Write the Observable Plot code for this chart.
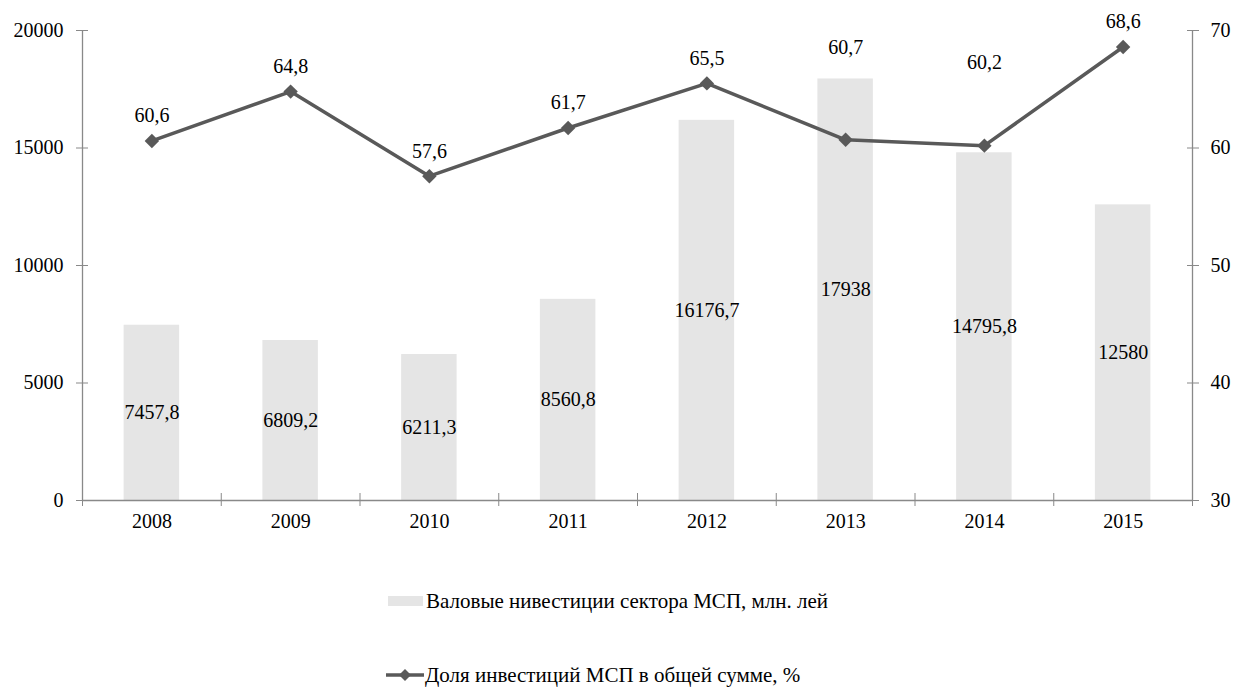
<!DOCTYPE html>
<html>
<head>
<meta charset="utf-8">
<script src="https://cdn.jsdelivr.net/npm/d3@7"></script>
<script src="https://cdn.jsdelivr.net/npm/@observablehq/plot@0.6"></script>
<style>
  body { margin: 0; background: #fff; font-family: 'Liberation Serif', 'DejaVu Serif', serif; }
  #wrap { position: relative; width: 1233px; height: 687px; overflow: hidden; }
  #chart svg, #chart svg text { font-family: 'Liberation Serif', 'DejaVu Serif', serif !important; }
  .leg { position: absolute; font-size: 21px; line-height: 22px; color: #000; display: flex; align-items: center; white-space: nowrap; font-family: 'Liberation Serif', serif; }
  .sw { display: inline-block; }
</style>
</head>
<body>
<div id="wrap">
  <div id="chart"></div>
  <div class="leg" style="left:388px; top:590px;"><span class="sw" style="width:35px;height:10px;background:#e5e5e5;margin-right:3px"></span>Валовые нивестиции сектора МСП, млн. лей</div>
  <div class="leg" style="left:386px; top:664px;"><svg width="38" height="14" style="margin-right:1px"><line x1="0" y1="7" x2="38" y2="7" stroke="#595959" stroke-width="3.5"/><path d="M19,1 L25,7 L19,13 L13,7 Z" fill="#595959"/></svg>Доля инвестиций МСП в общей сумме, %</div>
</div>
<script>
const years = [2008, 2009, 2010, 2011, 2012, 2013, 2014, 2015];
const investments = [7457.8, 6809.2, 6211.3, 8560.8, 16176.7, 17938, 14795.8, 12580];
const shares = [60.6, 64.8, 57.6, 61.7, 65.5, 60.7, 60.2, 68.6];
const leftTicks = [0, 5000, 10000, 15000, 20000];
const rightTicks = [30, 40, 50, 60, 70];

const rightMin = 30, rightMax = 70, leftMax = 20000;
const toLeft = v => (v - rightMin) / (rightMax - rightMin) * leftMax;

const rows = years.map((y, i) => ({year: y, inv: investments[i], share: shares[i]}));
const boundaries = [years[0] - 0.5, ...years.map(y => y + 0.5)];
const labelLift = {2013: 92, 2014: 83};
const fmt = v => String(v).replace(".", ",");
const axisColor = "#898989";
const font = "'Liberation Serif', 'DejaVu Serif', serif";

const chart = Plot.plot({
  width: 1233,
  height: 540,
  marginLeft: 82,
  marginRight: 41,
  marginTop: 30,
  marginBottom: 40,
  style: {fontFamily: font, fontSize: "20px", color: "#000", background: "transparent"},
  x: {type: "linear", domain: [years[0] - 0.5, years[years.length - 1] + 0.5]},
  y: {domain: [0, leftMax]},
  marks: [
    Plot.rectY(rows, {x1: d => d.year - 0.2, x2: d => d.year + 0.2, y: "inv", fill: "#e5e5e5"}),
    Plot.ruleY([0], {stroke: axisColor, strokeWidth: 1.3}),
    Plot.ruleX([boundaries[0], boundaries[boundaries.length - 1]], {stroke: axisColor, strokeWidth: 1.3}),
    Plot.axisY({anchor: "left", ticks: leftTicks, tickSize: 12, dx: 6, stroke: axisColor, tickFormat: () => "", label: null}),
    Plot.axisY({anchor: "left", ticks: leftTicks, tickSize: 0, tickPadding: 19, tickFormat: d => String(d), label: null, fill: "#000", fontSize: 20}),
    Plot.axisY({anchor: "right", ticks: leftTicks, tickSize: 12, dx: -6, stroke: axisColor, tickFormat: () => "", label: null}),
    Plot.axisY({anchor: "right", ticks: rightTicks.map(toLeft), tickSize: 0, tickPadding: 18, tickFormat: d => String(Math.round(rightMin + d / leftMax * (rightMax - rightMin))), label: null, fill: "#000", fontSize: 20}),
    Plot.axisX({ticks: boundaries, tickSize: 13, dy: -7, stroke: axisColor, tickFormat: () => "", label: null}),
    Plot.axisX({ticks: years, tickSize: 0, tickPadding: 13, tickFormat: d => String(d), label: null, fill: "#000", fontSize: 20}),
    Plot.text(rows, {x: "year", y: d => d.inv / 2, text: d => fmt(d.inv), fill: "#000", fontSize: 20}),
    Plot.line(rows, {x: "year", y: d => toLeft(d.share), stroke: "#595959", strokeWidth: 3.5}),
    Plot.dot(rows, {x: "year", y: d => toLeft(d.share), symbol: "diamond2", r: 6.5, fill: "#595959", stroke: "none"}),
    Plot.text(rows, {x: "year", y: d => toLeft(d.share), text: d => fmt(d.share), fill: "#000", fontSize: 20,
      render(index, scales, values, dimensions, context, next) {
        const g = next(index, scales, values, dimensions, context);
        d3.select(g).selectAll("text").each(function(_, j) {
          const i = index[j];
          const lift = labelLift[rows[i].year] ?? 25;
          this.setAttribute("transform", (this.getAttribute("transform") || "") + ` translate(0,${-lift})`);
        });
        return g;
      }
    })
  ]
});
document.getElementById("chart").appendChild(chart);
</script>
</body>
</html>
